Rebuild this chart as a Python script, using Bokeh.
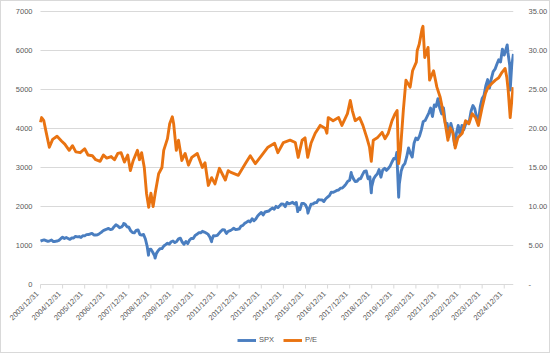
from bokeh.plotting import figure
from bokeh.models import (Range1d, LinearAxis, FixedTicker, NumeralTickFormatter,
                          Legend, LegendItem)
from bokeh.core.properties import value
from bokeh.embed import file_html
from bokeh.resources import INLINE
from math import pi

# ---------------- data ----------------
tick_labels = ["2003/12/31", "2004/12/31", "2005/12/31", "2006/12/31", "2007/12/31",
               "2008/12/31", "2009/12/31", "2010/12/31", "2011/12/31", "2012/12/31",
               "2013/12/31", "2014/12/31", "2015/12/31", "2016/12/31", "2017/12/31",
               "2018/12/31", "2019/12/31", "2020/12/31", "2021/12/31", "2022/12/31",
               "2023/12/31", "2024/12/31"]
tick_years = [2004.0 + i for i in range(len(tick_labels))]
spx_ticks = [0, 1000, 2000, 3000, 4000, 5000, 6000, 7000]
pe_ticks = [0, 5, 10, 15, 20, 25, 30, 35]

spx_start = 1112
# SPX month-end closes, Jan 2004 .. May 2025
spx_month_end = [
    1131, 1145, 1126, 1107, 1121, 1141, 1102, 1104, 1115, 1130, 1174, 1212,
    1181, 1204, 1181, 1157, 1192, 1191, 1234, 1220, 1229, 1207, 1249, 1248,
    1280, 1281, 1295, 1311, 1270, 1270, 1277, 1304, 1336, 1378, 1401, 1418,
    1438, 1407, 1421, 1482, 1531, 1503, 1455, 1474, 1527, 1549, 1481, 1468,
    1379, 1331, 1323, 1386, 1400, 1280, 1267, 1283, 1166, 969, 896, 903,
    826, 735, 798, 873, 919, 919, 987, 1021, 1057, 1036, 1096, 1115,
    1074, 1104, 1169, 1187, 1089, 1031, 1102, 1049, 1141, 1183, 1181, 1258,
    1286, 1327, 1326, 1364, 1345, 1321, 1292, 1219, 1131, 1253, 1247, 1258,
    1312, 1366, 1408, 1398, 1310, 1362, 1379, 1407, 1441, 1412, 1416, 1426,
    1498, 1515, 1569, 1598, 1631, 1606, 1686, 1633, 1682, 1757, 1806, 1848,
    1783, 1859, 1872, 1884, 1924, 1960, 1931, 2003, 1972, 2018, 2068, 2059,
    1995, 2105, 2068, 2086, 2107, 2063, 2104, 1972, 1920, 2079, 2080, 2044,
    1940, 1932, 2060, 2065, 2097, 2099, 2174, 2171, 2168, 2126, 2199, 2239,
    2279, 2364, 2363, 2384, 2412, 2423, 2470, 2472, 2519, 2575, 2648, 2674,
    2824, 2714, 2641, 2648, 2705, 2718, 2816, 2902, 2914, 2712, 2760, 2507,
    2704, 2784, 2834, 2946, 2752, 2942, 2980, 2926, 2977, 3038, 3141, 3231,
    3226, 2954, 2585, 2912, 3044, 3100, 3271, 3500, 3363, 3270, 3622, 3756,
    3714, 3811, 3973, 4181, 4204, 4298, 4395, 4523, 4308, 4605, 4567, 4766,
    4516, 4374, 4530, 4132, 4132, 3785, 4130, 3955, 3586, 3872, 4080, 3840,
    4077, 3970, 4109, 4169, 4180, 4450, 4589, 4508, 4288, 4194, 4568, 4770,
    4846, 5096, 5254, 5036, 5278, 5460, 5522, 5648, 5762, 5705, 6032, 5882,
    6041, 5955, 5612, 5569, 5912,
]
# intra-month highs / lows visible in the chart
spx_extreme_dates = [2007.77, 2008.89, 2009.19, 2011.75, 2015.65, 2016.11, 2018.07,
                     2018.98, 2020.135, 2020.22, 2022.78, 2025.135, 2025.27]
spx_extreme_values = [1565, 752, 677, 1099, 1868, 1829, 2873,
                      2351, 3386, 2237, 3577, 6144, 4983]

pe_dates = [
    2004.00, 2004.05, 2004.15, 2004.25, 2004.40, 2004.55, 2004.75, 2004.95,
    2005.10, 2005.30, 2005.45, 2005.60, 2005.80, 2006.00, 2006.15, 2006.35,
    2006.50, 2006.70, 2006.85, 2007.00, 2007.20, 2007.35, 2007.50, 2007.65,
    2007.80, 2007.95, 2008.07, 2008.20, 2008.39, 2008.48, 2008.58, 2008.70,
    2008.80, 2008.90, 2009.00, 2009.10, 2009.20, 2009.35, 2009.50, 2009.58,
    2009.75, 2009.85, 2009.97, 2010.03, 2010.15, 2010.25, 2010.40, 2010.55,
    2010.70, 2010.85, 2011.10, 2011.33, 2011.45, 2011.60, 2011.75, 2011.90,
    2012.10, 2012.37, 2012.50, 2012.60, 2012.96, 2013.28, 2013.50, 2013.73,
    2014.00, 2014.30, 2014.60, 2014.75, 2015.00, 2015.30, 2015.54, 2015.67,
    2015.85, 2015.98, 2016.10, 2016.25, 2016.44, 2016.67, 2016.90, 2016.97,
    2017.03, 2017.25, 2017.50, 2017.65, 2017.90, 2018.03, 2018.12, 2018.25,
    2018.45, 2018.60, 2018.78, 2018.90, 2018.98, 2019.07, 2019.25, 2019.47,
    2019.60, 2019.75, 2019.92, 2020.06, 2020.15, 2020.22, 2020.30, 2020.43,
    2020.55, 2020.74, 2020.85, 2021.02, 2021.06, 2021.15, 2021.28, 2021.32,
    2021.40, 2021.55, 2021.62, 2021.80, 2021.95, 2022.10, 2022.22, 2022.33,
    2022.45, 2022.55, 2022.68, 2022.78, 2022.90, 2023.10, 2023.25, 2023.40,
    2023.55, 2023.70, 2023.83, 2024.00, 2024.15, 2024.27, 2024.45, 2024.60,
    2024.75, 2024.90, 2025.04, 2025.12, 2025.18, 2025.27, 2025.40,
]
pe_values = [
    20.8, 21.4, 21.0, 19.6, 17.6, 18.6, 19.0, 18.4,
    18.0, 17.2, 17.8, 17.0, 16.9, 17.4, 16.6, 16.5,
    16.0, 15.8, 16.6, 16.2, 16.4, 16.0, 16.8, 16.9,
    15.7, 16.6, 14.6, 15.9, 17.2, 16.0, 16.9, 15.0,
    11.7, 9.9, 11.7, 10.0, 11.8, 14.2, 15.0, 17.2,
    18.7, 20.6, 21.5, 20.6, 17.2, 18.5, 15.9, 16.8,
    15.3, 16.3, 16.8, 15.0, 15.6, 12.7, 13.7, 12.9,
    14.9, 13.4, 14.6, 14.4, 14.0, 15.5, 16.5, 15.5,
    16.5, 17.6, 18.1, 16.9, 18.2, 18.5, 18.2, 16.3,
    18.5, 18.8, 16.3, 18.1, 19.4, 20.4, 20.0, 19.4,
    21.4, 21.0, 21.4, 20.4, 21.9, 23.6, 22.3, 21.0,
    21.4, 20.4, 18.8, 17.6, 15.8, 18.5, 18.8, 19.5,
    18.7, 19.4, 21.0, 21.9, 22.3, 15.5, 17.2, 22.3,
    26.2, 25.3, 27.4, 28.5, 30.0, 30.8, 32.8, 33.1,
    29.1, 30.4, 26.2, 27.4, 25.3, 24.0, 22.3, 20.6,
    18.5, 20.1, 19.4, 17.5, 18.8, 19.4, 21.0, 20.6,
    21.9, 21.4, 20.4, 22.7, 24.5, 25.3, 25.8, 26.2,
    26.5, 27.2, 27.7, 26.5, 24.9, 21.4, 25.3,
]

# build SPX series (month ends + extremes), sorted by date
spx_pts = [(2004.0, spx_start)]
spx_pts += [(2004.0 + (i + 1) / 12.0, v) for i, v in enumerate(spx_month_end)]
spx_pts += list(zip(spx_extreme_dates, spx_extreme_values))
spx_pts.sort()
spx_x = [a for a, _ in spx_pts]
spx_y = [b for _, b in spx_pts]

# ---------------- styles / layout ----------------
BLUE = "#4A7EC0"
ORANGE = "#E97311"
GRID = "#D9D9D9"
TXT = "#595959"
FONT = "Liberation Sans"
FS = "7.5px"

W, H = 550, 353
LEFT, PLOT_W, RIGHT = 40, 473, 37          # plot-area geometry in pixels
TOP, PLOT_H, BOTTOM = 11, 273, 69
X0, X1 = 2004.0, 2025.42
SPX_MAX, PE_MAX = 7000, 35
x_per_px = (X1 - X0) / PLOT_W
spx_per_px = SPX_MAX / PLOT_H
pe_per_px = PE_MAX / PLOT_H

p = figure(width=W, height=H, output_backend="svg", toolbar_location=None,
           x_axis_location=None, y_axis_location=None,
           x_range=Range1d(X0 - LEFT * x_per_px, X1),
           y_range=Range1d(-BOTTOM * spx_per_px, SPX_MAX + TOP * spx_per_px),
           min_border_left=0, min_border_right=RIGHT, min_border_top=0,
           min_border_bottom=0)
p.extra_y_ranges = {"pe": Range1d(-BOTTOM * pe_per_px, PE_MAX + TOP * pe_per_px)}
p.outline_line_color = None
p.background_fill_color = None
p.border_fill_color = None
p.styles = {"box-shadow": "inset 0 0 0 1px #D9D9D9", "background": "white"}
p.xgrid.visible = False
p.ygrid.visible = False

# right (P/E) axis
ra = LinearAxis(y_range_name="pe", ticker=FixedTicker(ticks=pe_ticks),
                formatter=NumeralTickFormatter(format="0.00"))
ra.major_label_overrides = {0: "-"}
ra.axis_line_color = None
ra.major_tick_line_color = None
ra.minor_tick_line_color = None
ra.major_label_text_font = FONT
ra.major_label_text_font_size = FS
ra.major_label_text_color = TXT
ra.major_label_standoff = 9
p.add_layout(ra, "right")

m = len(spx_ticks)
# horizontal gridlines (0 line doubles as the date axis line)
p.segment(x0=[X0] * m, y0=spx_ticks, x1=[X1] * m, y1=spx_ticks,
          line_color=GRID, line_width=1)
# left (SPX) value labels
p.text(x=[X0] * m, y=spx_ticks, text=[str(v) for v in spx_ticks],
       text_align="right", text_baseline="middle", x_offset=-8,
       text_font=value(FONT), text_font_size=value(FS), text_color=TXT)

# date axis: tick marks and rotated labels at the year ends
n = len(tick_years)
p.segment(x0=tick_years, y0=[0] * n, x1=tick_years, y1=[-4 * spx_per_px] * n,
          line_color=GRID, line_width=1)
p.text(x=tick_years, y=[0] * n, text=tick_labels, angle=pi / 4,
       text_align="right", text_baseline="middle", x_offset=-3, y_offset=8,
       text_font=value(FONT), text_font_size=value(FS), text_color=TXT)

r1 = p.line(spx_x, spx_y, line_color=BLUE, line_width=2.9, line_join="round")
r2 = p.line(pe_dates, pe_values, line_color=ORANGE, line_width=2.9,
            line_join="round", y_range_name="pe")

legend = Legend(items=[LegendItem(label="SPX", renderers=[r1]),
                       LegendItem(label="P/E", renderers=[r2])],
                orientation="horizontal", location=(237, 9),
                label_text_font=FONT, label_text_font_size=FS,
                label_text_color=TXT, glyph_width=19, glyph_height=8,
                label_height=8, label_standoff=3, spacing=4, padding=0,
                margin=0, border_line_color=None, background_fill_alpha=0)
p.add_layout(legend, "center")

open("out.html", "w").write(file_html(p, INLINE))
